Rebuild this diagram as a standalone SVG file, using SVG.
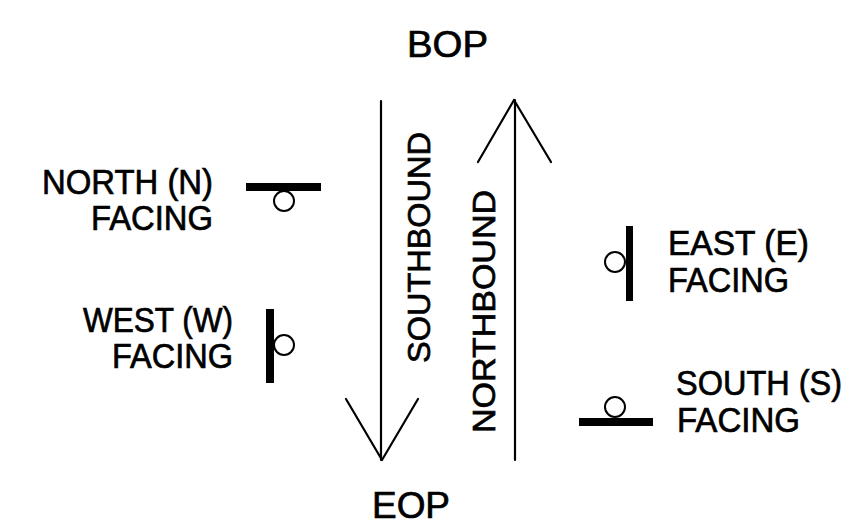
<svg xmlns="http://www.w3.org/2000/svg" width="862" height="532" viewBox="0 0 862 532">
<style>
text{font-family:"Liberation Sans",Arial,sans-serif;fill:#000;stroke:#000;stroke-width:0.7}
.t{font-size:36px}
.l{font-size:35px}
.r{font-size:32px}
.bar{fill:#000}
.c{fill:#fff;stroke:#000;stroke-width:2}
.ln{stroke:#000;stroke-width:2.2;fill:none;stroke-linecap:round;stroke-linejoin:round}
</style>
<rect width="862" height="532" fill="#fff"/>
<g id="bop"><text class="t" x="407" y="57" textLength="81" lengthAdjust="spacingAndGlyphs">BOP</text></g>
<g id="eop"><text class="t" x="372" y="518" textLength="78" lengthAdjust="spacingAndGlyphs">EOP</text></g>
<g id="connectors">
<path class="ln" d="M381 101 V460 M346 399 L382 460 L418 399"/>
<path class="ln" d="M515 460 V100 M478 162 L514 100 L551 162"/>
</g>
<g id="southbound"><text class="r" transform="translate(430 363) rotate(-90)" textLength="231" lengthAdjust="spacingAndGlyphs">SOUTHBOUND</text></g>
<g id="northbound"><text class="r" transform="translate(495 433) rotate(-90)" textLength="243" lengthAdjust="spacingAndGlyphs">NORTHBOUND</text></g>
<g id="north">
<text class="l" x="42" y="194" textLength="171" lengthAdjust="spacingAndGlyphs">NORTH (N)</text>
<text class="l" x="91" y="230" textLength="122" lengthAdjust="spacingAndGlyphs">FACING</text>
<rect class="bar" x="246" y="183" width="75" height="8"/>
<circle class="c" cx="284" cy="201" r="10"/>
</g>
<g id="west">
<text class="l" x="83" y="332" textLength="150" lengthAdjust="spacingAndGlyphs">WEST (W)</text>
<text class="l" x="112" y="368" textLength="121" lengthAdjust="spacingAndGlyphs">FACING</text>
<rect class="bar" x="266" y="309" width="8" height="74"/>
<circle class="c" cx="284" cy="345" r="10"/>
</g>
<g id="east">
<text class="l" x="668" y="255" textLength="141" lengthAdjust="spacingAndGlyphs">EAST (E)</text>
<text class="l" x="668" y="292" textLength="121" lengthAdjust="spacingAndGlyphs">FACING</text>
<rect class="bar" x="626" y="226" width="7" height="75"/>
<circle class="c" cx="615" cy="262" r="10"/>
</g>
<g id="south">
<text class="l" x="676" y="395" textLength="166" lengthAdjust="spacingAndGlyphs">SOUTH (S)</text>
<text class="l" x="677" y="432" textLength="123" lengthAdjust="spacingAndGlyphs">FACING</text>
<rect class="bar" x="579" y="418" width="74" height="8"/>
<circle class="c" cx="615" cy="407" r="10"/>
</g>
</svg>
